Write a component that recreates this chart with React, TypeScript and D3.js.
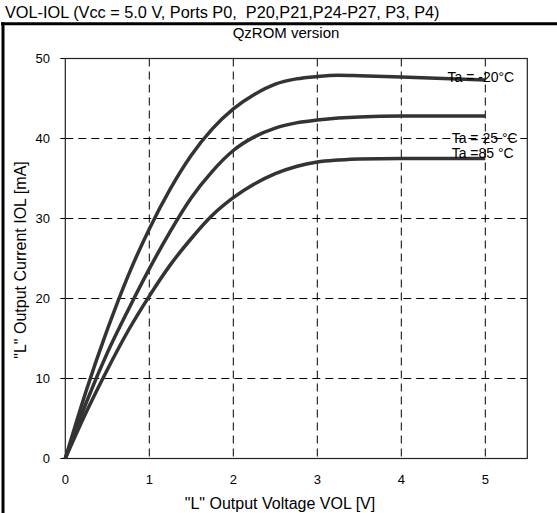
import React from "react";
import * as d3 from "d3";

const W = 557;
const H = 513;

const xTicks = [0, 1, 2, 3, 4, 5];
const yTicks = [0, 10, 20, 30, 40, 50];

const vol = [0, 0.25, 0.5, 0.75, 1.0, 1.25, 1.5, 1.75, 2.0, 2.25, 2.5, 2.75, 3.0, 3.25, 3.5, 4.0, 4.5, 5.0];
const iolM20 = [0, 8.5, 16.1, 22.9, 28.7, 33.7, 37.9, 41.2, 43.7, 45.5, 46.8, 47.45, 47.75, 47.9, 47.85, 47.7, 47.5, 47.3];
const iol25 = [0, 7.0, 13.2, 18.6, 23.7, 28.4, 32.6, 35.9, 38.5, 40.2, 41.3, 41.95, 42.3, 42.55, 42.7, 42.8, 42.8, 42.8];
const iol85 = [0, 5.8, 11.1, 16.0, 20.3, 24.2, 27.5, 30.4, 32.6, 34.3, 35.6, 36.5, 37.05, 37.3, 37.45, 37.5, 37.5, 37.5];

const seriesLabels = ["Ta = -20°C", "Ta = 25 °C", "Ta =85 °C"];
const labelAnchors = [
  [4.55, 47.1],
  [4.6, 39.5],
  [4.6, 37.6],
];

const title = "VOL-IOL (Vcc = 5.0 V, Ports P0,  P20,P21,P24-P27, P3, P4)";
const subtitle = "QzROM version";
const xLabel = '"L" Output Voltage VOL [V]';
const yLabel = '"L" Output Current IOL [mA]';

export default function App() {
  const x = d3.scaleLinear().domain([0, 5.5]).range([65.3, 527.3]);
  const y = d3.scaleLinear().domain([0, 50]).range([458.5, 58.5]);
  const line = d3
    .line<[number, number]>()
    .x((d) => x(d[0]))
    .y((d) => y(d[1]))
    .curve(d3.curveMonotoneX);
  const series = [iolM20, iol25, iol85].map((arr) =>
    vol.map((v, k) => [v, arr[k]] as [number, number])
  );
  const font = "Liberation Sans, Arial, sans-serif";
  return (
    <svg
      width={W}
      height={H}
      style={{ position: "absolute", left: 0, top: 0, background: "#fff" }}
      fontFamily={font}
    >
      <rect x={0} y={0} width={W} height={H} fill="#fff" />
      <text x={5} y={18} fontSize={16.3} fill="#000" style={{ whiteSpace: "pre" }}>
        {title}
      </text>
      <line x1={1} x2={W} y1={23.8} y2={23.8} stroke="#000" strokeWidth={3} />
      <line x1={3} x2={3} y1={22.5} y2={H} stroke="#000" strokeWidth={3} />
      <text x={286} y={37.5} fontSize={15} textAnchor="middle" fill="#000">
        {subtitle}
      </text>
      {xTicks.slice(1).map((t) => (
        <line
          key={"gx" + t}
          x1={x(t)}
          x2={x(t)}
          y1={y(50)}
          y2={y(0)}
          stroke="#000"
          strokeWidth={1}
          strokeDasharray="8,5"
        />
      ))}
      {yTicks.slice(1, -1).map((t) => (
        <line
          key={"gy" + t}
          x1={x(0)}
          x2={x(5.5)}
          y1={y(t)}
          y2={y(t)}
          stroke="#000"
          strokeWidth={1}
          strokeDasharray="8,5"
        />
      ))}
      <rect
        x={x(0)}
        y={y(50)}
        width={x(5.5) - x(0)}
        height={y(0) - y(50)}
        fill="none"
        stroke="#222"
        strokeWidth={1.2}
      />
      {yTicks.map((t) => (
        <g key={"ty" + t}>
          <line x1={x(0) - 5} x2={x(0)} y1={y(t)} y2={y(t)} stroke="#000" />
          <text x={50} y={y(t) + 4.5} fontSize={13} textAnchor="end" fill="#000">
            {t}
          </text>
        </g>
      ))}
      {xTicks.map((t) => (
        <text key={"tx" + t} x={x(t)} y={484} fontSize={13} textAnchor="middle" fill="#000">
          {t}
        </text>
      ))}
      <text x={280} y={509} fontSize={16} textAnchor="middle" fill="#000">
        {xLabel}
      </text>
      <text
        transform={`translate(26, ${260}) rotate(-90)`}
        fontSize={16}
        textAnchor="middle"
        fill="#000"
      >
        {yLabel}
      </text>
      {series.map((s, k) => (
        <path
          key={"s" + k}
          d={line(s) || ""}
          fill="none"
          stroke="#333"
          strokeWidth={3.5}
          strokeLinecap="butt"
        />
      ))}
      {seriesLabels.map((l, k) => (
        <text
          key={"l" + k}
          x={x(labelAnchors[k][0])}
          y={y(labelAnchors[k][1])}
          fontSize={14}
          fill="#000"
        >
          {l}
        </text>
      ))}
    </svg>
  );
}
